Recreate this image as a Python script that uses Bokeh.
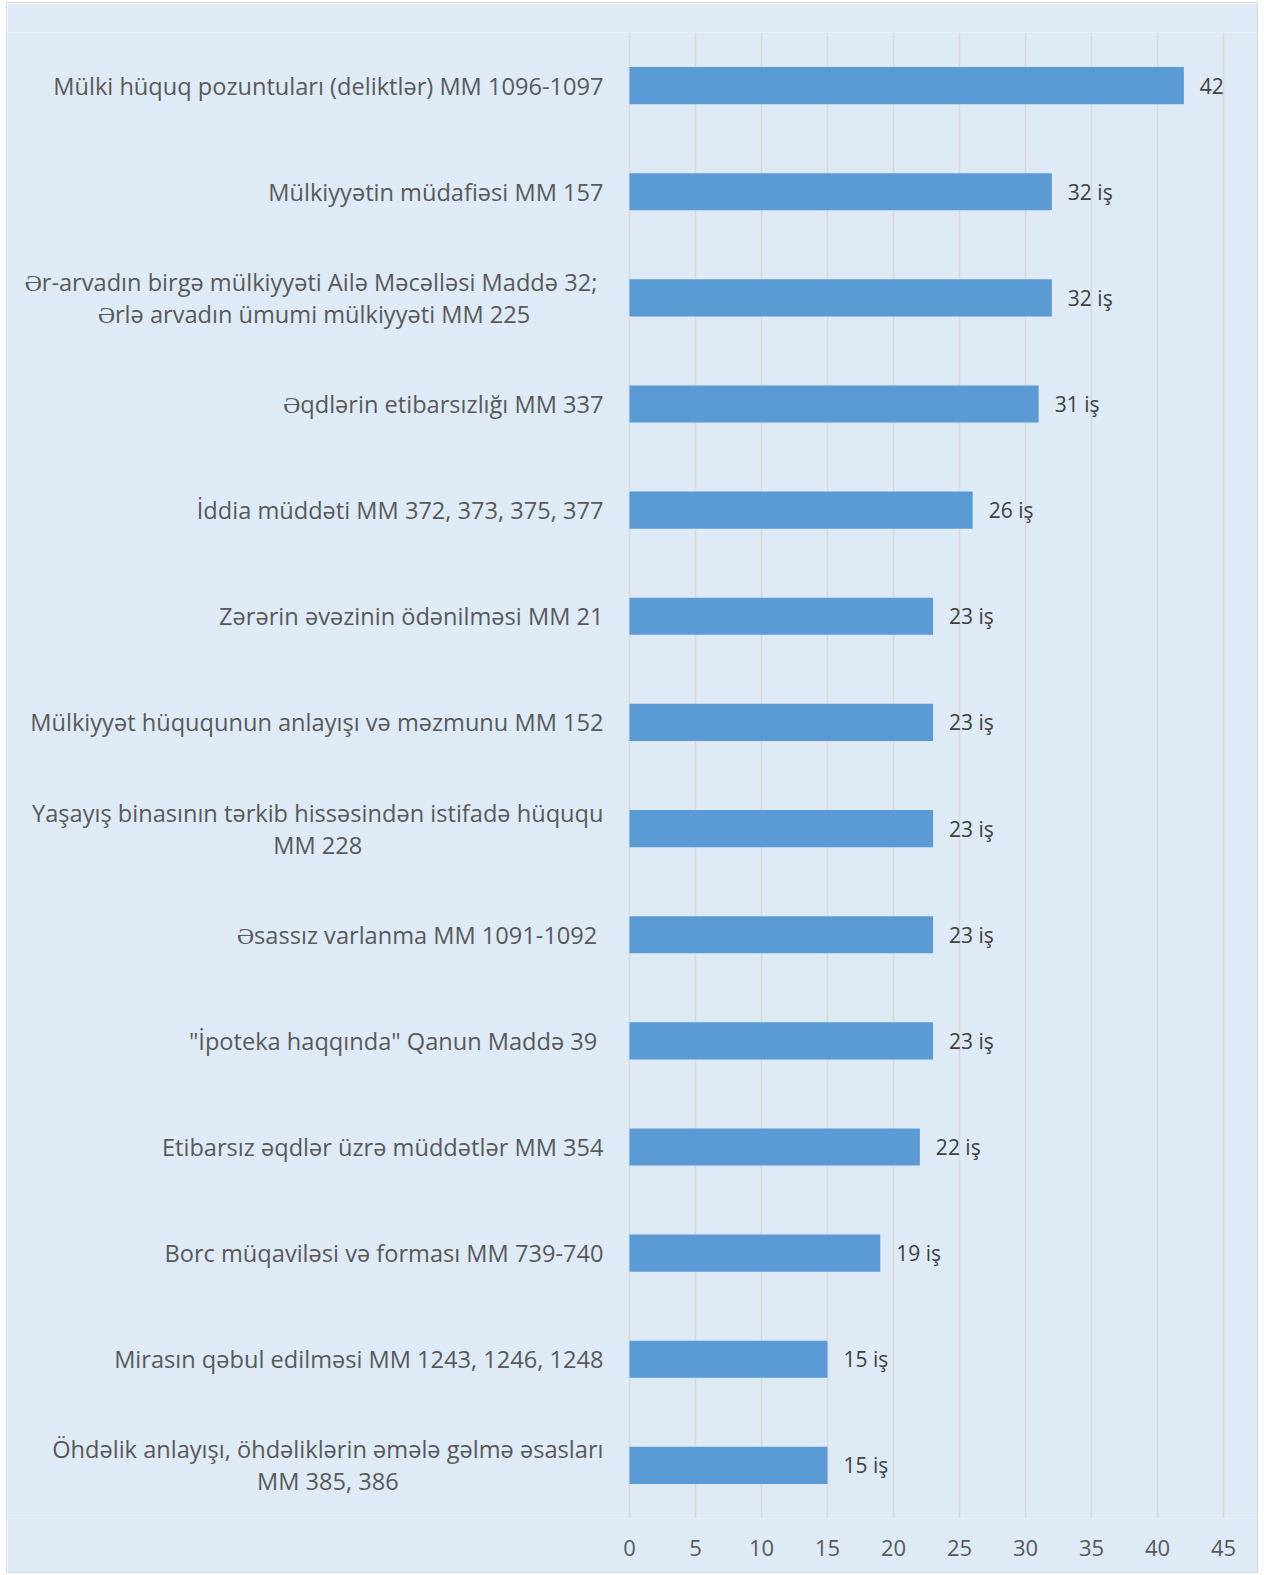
from bokeh.plotting import figure
from bokeh.models import FactorRange, Range1d, FixedTicker, ColumnDataSource
from bokeh.embed import file_html
from bokeh.resources import INLINE
from bokeh.core.properties import value

categories = [
    "Mülki hüquq pozuntuları (deliktlər) MM 1096-1097",
    "Mülkiyyətin müdafiəsi MM 157",
    "Ər-arvadın birgə mülkiyyəti Ailə Məcəlləsi Maddə 32; \nƏrlə arvadın ümumi mülkiyyəti MM 225",
    "Əqdlərin etibarsızlığı MM 337",
    "İddia müddəti MM 372, 373, 375, 377",
    "Zərərin əvəzinin ödənilməsi MM 21",
    "Mülkiyyət hüququnun anlayışı və məzmunu MM 152",
    "Yaşayış binasının tərkib hissəsindən istifadə hüququ\nMM 228",
    "Əsassız varlanma MM 1091-1092 ",
    "\"İpoteka haqqında\" Qanun Maddə 39 ",
    "Etibarsız əqdlər üzrə müddətlər MM 354",
    "Borc müqaviləsi və forması MM 739-740",
    "Mirasın qəbul edilməsi MM 1243, 1246, 1248",
    "Öhdəlik anlayışı, öhdəliklərin əmələ gəlmə əsasları\nMM 385, 386",
]
values = [42, 32, 32, 31, 26, 23, 23, 23, 23, 23, 22, 19, 15, 15]
value_labels = ["42", "32 iş", "32 iş", "31 iş", "26 iş", "23 iş", "23 iş", "23 iş",
                "23 iş", "23 iş", "22 iş", "19 iş", "15 iş", "15 iş"]
x_ticks = [0, 5, 10, 15, 20, 25, 30, 35, 40, 45]

keys = [f"c{i}" for i in range(len(categories))]
src = ColumnDataSource(dict(key=keys, cat=categories, val=values, vlab=value_labels,
                            zero=[0] * len(values)))

BG = "#DEEAF6"
p = figure(width=1252, height=1571, output_backend="svg", toolbar_location=None,
           y_range=FactorRange(factors=list(reversed(keys))),
           x_range=Range1d(-47.12, 47.73),
           y_axis_location=None, x_axis_location="below",
           min_border_left=0, min_border_right=0, min_border_top=29, min_border_bottom=56,
           background_fill_color=BG, border_fill_color=BG,
           margin=(2, 0, 0, 6),
           styles={"border": "1px solid #D9D9D9"})
p.outline_line_color = None

p.ygrid.visible = False
p.xgrid.ticker = FixedTicker(ticks=x_ticks)
p.xgrid.grid_line_color = "#D9D9D9"
p.xgrid.grid_line_width = 1.5

ax = p.xaxis[0]
ax.ticker = FixedTicker(ticks=x_ticks)
ax.axis_line_color = None
ax.major_tick_line_color = None
ax.minor_tick_line_color = None
ax.major_label_standoff = 15
ax.major_label_text_font = "Open Sans"
ax.major_label_text_font_size = "22px"
ax.major_label_text_color = "#595959"

p.hbar(y="key", right="val", left=0, height=0.35, source=src,
       fill_color="#5B9BD5", line_color=None)

p.text(x="zero", y="key", text="cat", source=src, x_offset=-26,
       text_align="center", anchor="center_right", text_baseline="middle",
       text_font=value("Open Sans"), text_font_size="23.6px", text_color="#595959",
       text_line_height=1.0)

p.text(x="val", y="key", text="vlab", source=src, x_offset=16,
       text_align="left", text_baseline="middle",
       text_font=value("Open Sans"), text_font_size="21px", text_color="#404040")

open("out.html", "w").write(file_html(p, INLINE))
